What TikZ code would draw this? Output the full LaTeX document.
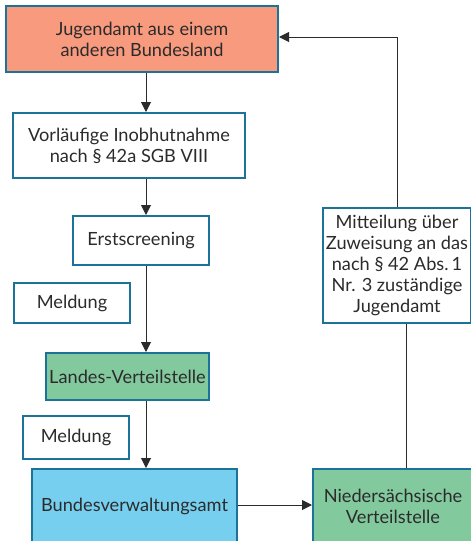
\documentclass[tikz,border=0pt]{standalone}
\usepackage{fontspec}
\setmainfont{Lato}
\usetikzlibrary{arrows.meta,calc}
\definecolor{bordc}{HTML}{1B7399}
\definecolor{salmon}{HTML}{F79A7E}
\definecolor{greenf}{HTML}{82C99E}
\definecolor{bluef}{HTML}{77CFEF}
\definecolor{txt}{HTML}{2B2B2B}
\tikzset{
  boxst/.style={draw=bordc, line width=2pt, fill=white, align=center, text=txt,
    inner sep=0pt, font=\fontsize{18.2}{20.8}\selectfont},
  conn/.style={draw=txt, line width=1pt, -{Triangle[length=10pt,width=10pt]}},
  plainconn/.style={draw=txt, line width=1pt},
}
\begin{document}
\begin{tikzpicture}[x=1pt,y=-1pt]
\useasboundingbox (0,0) rectangle (471,541);
\clip (0,0) rectangle (471,541);
\node[boxst, fill=salmon, minimum width=272pt, minimum height=66pt] (jug) at (142,39) {Jugendamt aus einem\\anderen Bundesland};
\node[boxst, minimum width=232pt, minimum height=65pt] (vor) at (129,145.5) {Vorläufige Inobhutnahme\\nach § 42a SGB VIII};
\node[boxst, minimum width=136pt, minimum height=49pt] (erst) at (141,240.5) {Erstscreening};
\node[boxst, minimum width=116pt, minimum height=40pt] (mel1) at (72,303) {Meldung};
\node[boxst, fill=greenf, minimum width=163pt, minimum height=47pt] (landes) at (127.5,376.5) {Landes-Verteilstelle};
\node[boxst, minimum width=106pt, minimum height=43pt] (mel2) at (76,437.5) {Meldung};
\node[boxst, fill=bluef, minimum width=205pt, minimum height=74pt] (bund) at (134.5,506) {Bundesverwaltungsamt};
\node[boxst, fill=greenf, minimum width=160pt, minimum height=74pt] (nied) at (393,506) {Niedersächsische\\Verteilstelle};
\node[boxst, minimum width=148pt, minimum height=115pt] (mitt) at (397,265.5) {Mitteilung über\\Zuweisung an das\\nach § 42 Abs.\,1\\Nr. 3 zuständige\\Jugendamt};
\coordinate (spine) at (146,0);
\coordinate (rspine) at (406,0);
\draw[conn] (jug.south -| spine) -- (vor.north -| spine);
\draw[conn] (vor.south -| spine) -- (erst.north -| spine);
\draw[conn] (erst.south -| spine) -- (landes.north -| spine);
\draw[conn] (landes.south -| spine) -- (bund.north -| spine);
\draw[conn] (bund.east |- 0,505) -- (nied.west |- 0,505);
\draw[plainconn] (nied.north -| rspine) -- (mitt.south -| rspine);
\draw[conn] (mitt.north) |- (jug.east |- 0,37);
\end{tikzpicture}
\end{document}
